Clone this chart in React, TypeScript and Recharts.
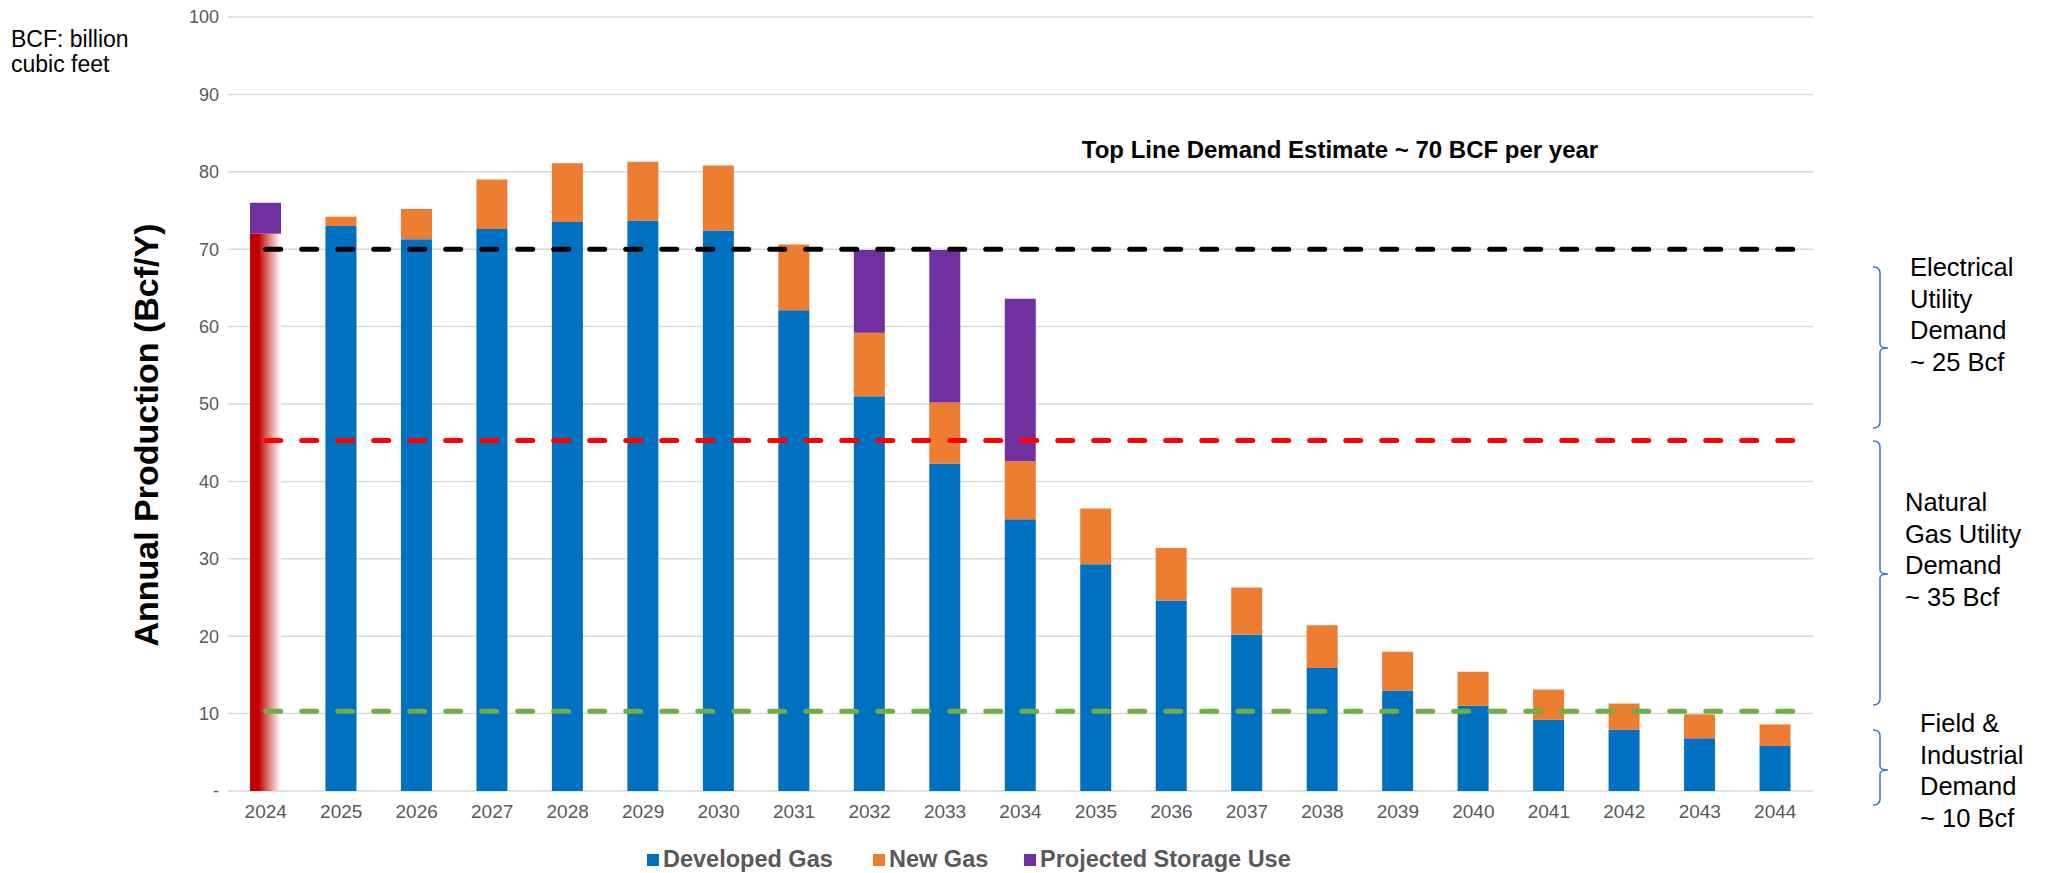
import React from "react";
import { BarChart, Bar, XAxis, YAxis, CartesianGrid, ReferenceLine } from "recharts";

const years = [
  "2024", "2025", "2026", "2027", "2028", "2029", "2030", "2031", "2032", "2033", "2034",
  "2035", "2036", "2037", "2038", "2039", "2040", "2041", "2042", "2043", "2044",
];
// 2024 actual (red faded bar, not in legend)
const actual2024 = [72, 0, 0, 0, 0, 0, 0, 0, 0, 0, 0, 0, 0, 0, 0, 0, 0, 0, 0, 0, 0];
const developedGas = [
  0, 73.0, 71.3, 72.6, 73.5, 73.7, 72.4, 62.1, 51.0, 42.3, 35.1,
  29.3, 24.6, 20.2, 15.9, 13.0, 11.0, 9.2, 7.9, 6.8, 5.8,
];
const newGas = [
  0, 1.2, 3.9, 6.4, 7.6, 7.6, 8.4, 8.5, 8.2, 7.9, 7.5,
  7.2, 6.8, 6.1, 5.5, 5.0, 4.4, 3.9, 3.4, 3.1, 2.8,
];
const storageUse = [4.0, 0, 0, 0, 0, 0, 0, 0, 10.7, 19.7, 21.0, 0, 0, 0, 0, 0, 0, 0, 0, 0, 0];
const yTicks = [0, 10, 20, 30, 40, 50, 60, 70, 80, 90, 100];

const topLineDemand = 70;
const gasUtilityLevel = 45.3;
const fieldLevel = 10.3;

const FONT = "'Liberation Sans', Arial, sans-serif";
const GRAY = "#595959";

const data = years.map((year, i) => ({
  year,
  actual: actual2024[i],
  developed: developedGas[i],
  newGas: newGas[i],
  storage: storageUse[i],
}));

// dashed demand line, starting at the first category centre like the excel line series
const demandLine = (color: string) => (p: any) => {
  const band = (p.x2 - p.x1) / years.length;
  return (
    <line
      x1={p.x1 + band / 2}
      y1={p.y1}
      x2={p.x2}
      y2={p.y2}
      stroke={color}
      strokeWidth={5}
      strokeDasharray="15 21"
      strokeLinecap="round"
    />
  );
};

const legendItems = [
  { label: "Developed Gas", color: "#0070C0", left: 647 },
  { label: "New Gas", color: "#ED7D31", left: 873 },
  { label: "Projected Storage Use", color: "#7030A0", left: 1024 },
];

const brackets = [
  { top: 267, tip: 348, bottom: 428 },
  { top: 441, tip: 574, bottom: 705 },
  { top: 730, tip: 770, bottom: 805 },
];

const notes = [
  { lines: ["Electrical", "Utility", "Demand", "~ 25 Bcf"], left: 1910, top: 252 },
  { lines: ["Natural", "Gas Utility", "Demand", "~ 35 Bcf"], left: 1905, top: 487 },
  { lines: ["Field &", "Industrial", "Demand", "~ 10 Bcf"], left: 1920, top: 708 },
];

export default function App() {
  return (
    <div style={{ position: "absolute", left: 0, top: 0, width: 2045, height: 873, fontFamily: FONT, background: "#fff" }}>
      <BarChart
        width={2045}
        height={873}
        data={data}
        margin={{ top: 17, right: 232, bottom: 0, left: 0 }}
        barSize={31}
      >
        <defs>
          <linearGradient id="redFade" x1="0" y1="0" x2="1" y2="0">
            <stop offset="0%" stopColor="#C00000" />
            <stop offset="28%" stopColor="#C00000" />
            <stop offset="100%" stopColor="#FFFFFF" stopOpacity={0.9} />
          </linearGradient>
        </defs>
        <CartesianGrid vertical={false} stroke="#d9d9d9" strokeWidth={1.5} />
        <XAxis
          dataKey="year"
          height={82}
          tickLine={false}
          axisLine={false}
          tickSize={0}
          tickMargin={14}
          tick={{ fill: GRAY, fontSize: 19, fontFamily: FONT }}
          interval={0}
        />
        <YAxis
          width={228}
          domain={[0, 100]}
          ticks={yTicks}
          tickLine={false}
          axisLine={false}
          tickSize={0}
          tickMargin={9}
          tickFormatter={(v: number) => (v === 0 ? "-" : String(v))}
          tick={{ fill: GRAY, fontSize: 18, fontFamily: FONT }}
        />
        <Bar dataKey="actual" stackId="a" fill="url(#redFade)" isAnimationActive={false} legendType="none" />
        <Bar dataKey="developed" stackId="a" fill="#0070C0" isAnimationActive={false} name="Developed Gas" />
        <Bar dataKey="newGas" stackId="a" fill="#ED7D31" isAnimationActive={false} name="New Gas" />
        <Bar dataKey="storage" stackId="a" fill="#7030A0" isAnimationActive={false} name="Projected Storage Use" />
        <ReferenceLine y={topLineDemand} shape={demandLine("#000000")} />
        <ReferenceLine y={gasUtilityLevel} shape={demandLine("#FF0000")} />
        <ReferenceLine y={fieldLevel} shape={demandLine("#70AD47")} />
      </BarChart>

      <div style={{ position: "absolute", left: 11, top: 27, fontSize: 23, lineHeight: "25px", color: "#000" }}>
        BCF: billion
        <br />
        cubic feet
      </div>

      <div
        style={{
          position: "absolute",
          left: 146,
          top: 435,
          transform: "translate(-50%, -50%) rotate(-90deg)",
          whiteSpace: "nowrap",
          fontSize: 34,
          fontWeight: 700,
          color: "#000",
        }}
      >
        Annual Production (Bcf/Y)
      </div>

      <div
        style={{
          position: "absolute",
          left: 1340,
          top: 150,
          transform: "translate(-50%, -50%)",
          whiteSpace: "nowrap",
          fontSize: 24,
          fontWeight: 700,
          color: "#000",
        }}
      >
        Top Line Demand Estimate ~ 70 BCF per year
      </div>

      {legendItems.map((it) => (
        <div
          key={it.label}
          style={{ position: "absolute", left: it.left, top: 846, display: "flex", alignItems: "center", whiteSpace: "nowrap" }}
        >
          <span style={{ display: "inline-block", width: 12, height: 12, background: it.color, marginRight: 4 }} />
          <span style={{ fontSize: 23.5, fontWeight: 700, color: GRAY }}>{it.label}</span>
        </div>
      ))}

      <svg width={2045} height={873} style={{ position: "absolute", left: 0, top: 0, pointerEvents: "none" }}>
        {brackets.map((b, i) => (
          <path
            key={i}
            d={`M1873 ${b.top} Q1880 ${b.top} 1880 ${b.top + 6} L1880 ${b.tip - 4} Q1880 ${b.tip} 1888 ${b.tip} Q1880 ${b.tip} 1880 ${b.tip + 4} L1880 ${b.bottom - 6} Q1880 ${b.bottom} 1873 ${b.bottom}`}
            fill="none"
            stroke="#4472C4"
            strokeWidth={1.5}
          />
        ))}
      </svg>

      {notes.map((n, i) => (
        <div key={i} style={{ position: "absolute", left: n.left, top: n.top, fontSize: 25.5, lineHeight: "31.5px", color: "#000" }}>
          {n.lines.map((l) => (
            <div key={l}>{l}</div>
          ))}
        </div>
      ))}
    </div>
  );
}
